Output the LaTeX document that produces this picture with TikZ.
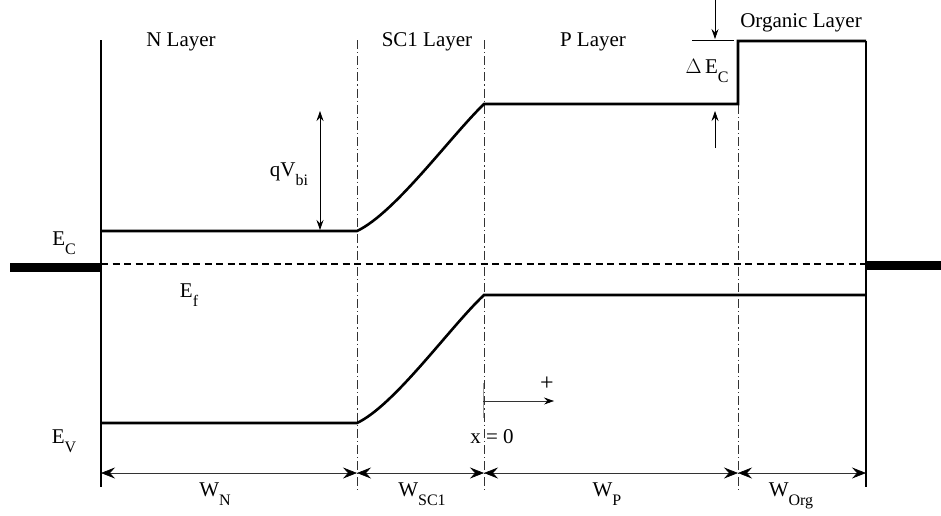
\documentclass[tikz,border=0pt]{standalone}
\usepackage{fontspec}
\setmainfont{Liberation Serif}
\usetikzlibrary{arrows.meta}
\newcommand{\lsub}[1]{\raisebox{-9.5pt}{\fontsize{16}{16}\selectfont #1}}
\begin{document}
\begin{tikzpicture}[x=1pt,y=-1pt,
  lbl/.style={inner sep=0pt,anchor=base,font=\fontsize{21}{23}\selectfont},
  wall/.style={line width=1.3pt},
  band/.style={line width=2.6pt},
  bnd/.style={line width=0.6pt,dash pattern=on 9pt off 3pt on 1.2pt off 3pt,black!80},
  fermi/.style={line width=1.8pt,dash pattern=on 7pt off 4.5pt},
  bar/.style={line width=9pt},
  dim/.style={line width=0.6pt,black!80,{Stealth[length=14pt,width=11pt,inset=5pt,black]}-{Stealth[length=14pt,width=11pt,inset=5pt,black]}},
  dimarr/.style={line width=0.7pt,-{Stealth[length=10pt,width=7pt,inset=3.5pt,black]}},
  dimarrb/.style={line width=0.7pt,{Stealth[length=10pt,width=7pt,inset=3.5pt]}-{Stealth[length=10pt,width=7pt,inset=3.5pt]}}
]
\useasboundingbox (0,0) rectangle (941,515);
% key coordinates
\coordinate (LT) at (101,40);  \coordinate (LB) at (101,487);
\coordinate (RT) at (866,41);  \coordinate (RB) at (866,487);
\coordinate (B1t) at (357,40); \coordinate (B1b) at (357,490);
\coordinate (B2t) at (484,40); \coordinate (B2b) at (484,490);
\coordinate (B3t) at (738,40); \coordinate (B3b) at (738,490);
% walls
\draw[wall] (LT) -- (LB);
\draw[wall] (RT) -- (RB);
% boundaries
\draw[bnd] (B1t) -- (B1b);
\draw[bnd] (B2t) -- (B2b);
\draw[bnd] (B3t) -- (B3b);
% Fermi level and contacts
\coordinate (FL) at (101,264); \coordinate (FR) at (866,264);
\draw[fermi] (FL) -- (FR);
\coordinate (CL) at (10,267); \coordinate (CLe) at (101,267);
\coordinate (CR) at (866,265); \coordinate (CRe) at (941,265);
\draw[bar] (CL) -- (CLe);
\draw[bar] (CR) -- (CRe);
% conduction band
\coordinate (C0) at (101,231); \coordinate (C1) at (357,231);
\coordinate (C2) at (484,104); \coordinate (C3) at (738,104);
\coordinate (C4) at (738,41);
\draw[band,line join=miter] (C0) -- (C1) .. controls (395,213) and (450,137) .. (C2) -- (C3) -- (C4) -- (RT);
% valence band
\coordinate (V0) at (101,423); \coordinate (V1) at (357,423);
\coordinate (V2) at (484,295); \coordinate (V3) at (866,295);
\draw[band] (V0) -- (V1) .. controls (395,405) and (450,327) .. (V2) -- (V3);
% dimension arrows
\coordinate (D0) at (101,473); \coordinate (D1) at (357,473);
\coordinate (D2) at (484,473); \coordinate (D3) at (738,473);
\coordinate (D4) at (866,473);
\draw[dim] (D0) -- (D1);
\draw[dim] (D1) -- (D2);
\draw[dim] (D2) -- (D3);
\draw[dim] (D3) -- (D4);
\node[lbl] (wn) at (215,496) {W\lsub{N}};
\node[lbl] (wsc) at (422,496) {W\lsub{SC1}};
\node[lbl] (wp) at (607,496) {W\lsub{P}};
\node[lbl] (worg) at (791,496) {W\lsub{Org}};
% layer labels
\node[lbl] (nl) at (181,46) {N Layer};
\node[lbl] (scl) at (427,46) {SC1 Layer};
\node[lbl] (pl) at (593,46) {P Layer};
\node[lbl] (ol) at (801,27) {Organic Layer};
% band labels
\node[lbl] (ec) at (64,245) {E\lsub{C}};
\node[lbl] (ef) at (189,297) {E\lsub{f}};
\node[lbl] (ev) at (64,443) {E\lsub{V}};
% qVbi
\coordinate (Q1) at (320,111); \coordinate (Q2) at (320,230);
\draw[dimarrb] (Q1) -- (Q2);
\node[lbl] (qv) at (289,176) {qV\lsub{bi}};
% Delta Ec
\coordinate (T0) at (715,0); \coordinate (T1) at (715,39);
\coordinate (H0) at (692,40); \coordinate (H1) at (734,40);
\coordinate (U0) at (715,148); \coordinate (U1) at (715,111);
\draw[line width=0.6pt] (H0) -- (H1);
\draw[dimarr] (T0) -- (T1);
\draw[dimarr] (U0) -- (U1);
\node[lbl] (dec) at (707,73) {$\Delta$\,E\lsub{C}};
% x = 0
\coordinate (X0) at (483,383); \coordinate (X1) at (483,418);
\coordinate (A0) at (483,401); \coordinate (A1) at (554,401);
\draw[line width=0.5pt,black!40] (X0) -- (X1);
\draw[dimarr,line width=0.6pt,black!80] (A0) -- (A1);
\node[lbl,font=\fontsize{24}{24}\selectfont] (plus) at (547,390) {+};
\node[lbl] (x0) at (492,443) {x = 0};
\end{tikzpicture}
\end{document}
